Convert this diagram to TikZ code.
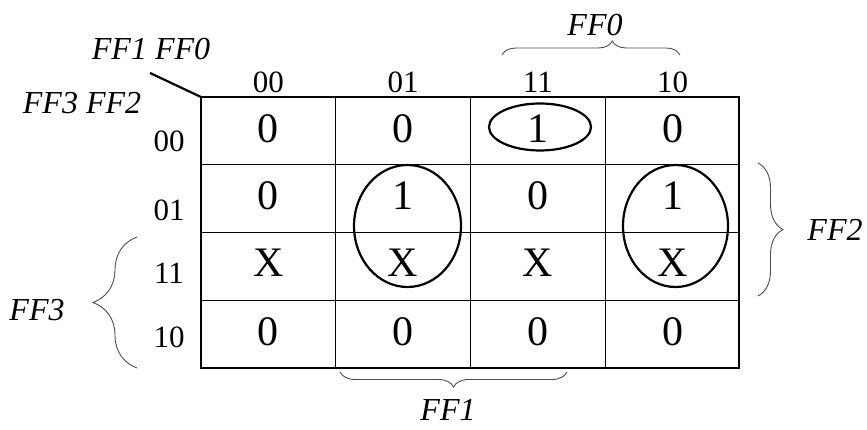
\documentclass[tikz,border=0pt]{standalone}
\usepackage{fontspec}
\setmainfont{Liberation Serif}
\usetikzlibrary{decorations.pathreplacing}
\tikzset{
  cellval/.style={inner sep=0pt, font=\fontsize{42}{46}\selectfont},
  idxlabel/.style={inner sep=0pt, font=\fontsize{31}{35}\selectfont},
  varlabel/.style={inner sep=0pt, font=\fontsize{32}{36}\selectfont\itshape},
  outer/.style={line width=2.6pt},
  inner/.style={line width=1.1pt},
  loop/.style={line width=2.2pt},
  bracestyle/.style={draw=black!70, line width=0.9pt, decorate, decoration={brace, amplitude=#1}},
}
\begin{document}
\begin{tikzpicture}[x=1pt,y=-1pt]
\useasboundingbox (0,0) rectangle (867,430);
% grid
\draw[inner] (335.75,97) -- (335.75,368) (470.5,97) -- (470.5,368) (605.25,97) -- (605.25,368);
\draw[inner] (201,164.75) -- (739,164.75) (201,232.5) -- (739,232.5) (201,300.25) -- (739,300.25);
\draw[outer] (201,97) rectangle (739,368);
% corner diagonal
\coordinate (dstart) at (150,73);
\coordinate (dend) at (201,97);
\draw[loop] (dstart) -- (dend);
\node[varlabel] (l10) at (151,49) {FF1 FF0};
\node[varlabel] (l32) at (82,103) {FF3 FF2};
% column labels
\node[idxlabel] (c0) at (268.4,82) {00};
\node[idxlabel] (c1) at (403.1,82) {01};
\node[idxlabel] (c2) at (537.9,82) {11};
\node[idxlabel] (c3) at (672.6,82) {10};
% row labels
\node[idxlabel] (r0) at (169,141) {00};
\node[idxlabel] (r1) at (169,210) {01};
\node[idxlabel] (r2) at (169,273) {11};
\node[idxlabel] (r3) at (169,337) {10};
% cells
\node[cellval] (v00) at (268.4,129) {0};
\node[cellval] (v01) at (403.1,129) {0};
\node[cellval] (v02) at (537.9,129) {1};
\node[cellval] (v03) at (672.6,129) {0};
\node[cellval] (v10) at (268.4,196) {0};
\node[cellval] (v11) at (403.1,196) {1};
\node[cellval] (v12) at (537.9,196) {0};
\node[cellval] (v13) at (672.6,196) {1};
\node[cellval] (v20) at (268.4,263) {X};
\node[cellval] (v21) at (403.1,263) {X};
\node[cellval] (v22) at (537.9,263) {X};
\node[cellval] (v23) at (672.6,263) {X};
\node[cellval] (v30) at (268.4,331.5) {0};
\node[cellval] (v31) at (403.1,331.5) {0};
\node[cellval] (v32) at (537.9,331.5) {0};
\node[cellval] (v33) at (672.6,331.5) {0};
% loops
\draw[loop] (540,127) ellipse [x radius=51, y radius=23.5];
\draw[loop] (407.5,226) ellipse [x radius=53.5, y radius=61];
\draw[loop] (675.5,226) ellipse [x radius=52.5, y radius=61];
% braces
\draw[bracestyle=14pt, decoration={aspect=0.62}] (502,55) -- (680,55);
\draw[bracestyle=15pt] (567,372) -- (340,372);
\draw[bracestyle=25pt] (758,163) -- (758,296);
\draw[bracestyle=44pt] (137,368) -- (137,237);
\node[varlabel] (lf0) at (595,25) {FF0};
\node[varlabel] (lf1) at (448,410) {FF1};
\node[varlabel] (lf2) at (835,230) {FF2};
\node[varlabel] (lf3) at (37,310) {FF3};
\end{tikzpicture}
\end{document}
